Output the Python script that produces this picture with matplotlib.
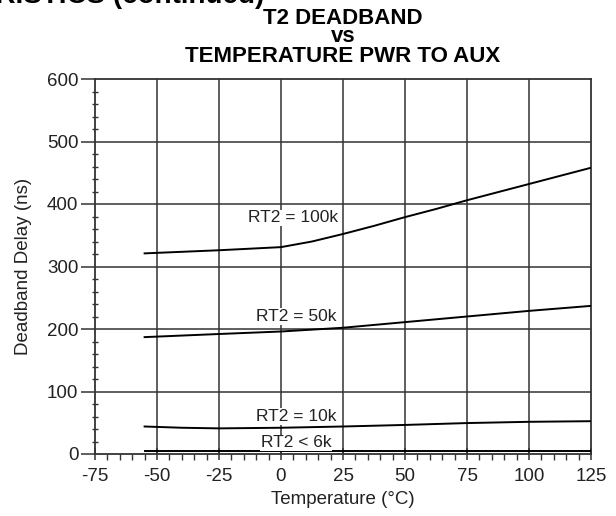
import matplotlib
matplotlib.use('Agg')
import matplotlib.pyplot as plt
from matplotlib.ticker import MultipleLocator

plt.rcParams['font.family'] = ['Liberation Sans', 'DejaVu Sans']
plt.rcParams['axes.unicode_minus'] = False

# curves
temp_100k = [-55, -25, 0, 12.5, 25, 37.5, 50, 62.5, 75, 100, 125]
delay_100k = [321, 326, 331, 340, 352, 365, 379, 392, 406, 432, 458]

temp_50k = [-55, -25, 0, 25, 50, 75, 100, 125]
delay_50k = [187, 192, 196, 202, 211, 220, 229, 237]

temp_10k = [-55, -40, -25, 0, 25, 50, 75, 100, 125]
delay_10k = [44, 42, 41, 42, 44, 46.5, 49.5, 51.5, 52.5]

temp_6k = [-55, 125]
delay_6k = [5, 5]

labels = ['RT2 = 100k', 'RT2 = 50k', 'RT2 = 10k', 'RT2 < 6k']
label_x = [5, 6, 6, 6]
label_y = [378, 220, 60, 18]

fig = plt.figure(figsize=(6.16, 5.16), dpi=100)
ax = fig.add_axes([95 / 616, 1 - 454 / 516, 496 / 616, 375 / 516])

grid_col = '#333333'
for x in range(-50, 125, 25):
    ax.axvline(x, color=grid_col, lw=1.1, zorder=1)
for y in range(100, 600, 100):
    ax.axhline(y, color=grid_col, lw=1.1, zorder=1)

for t, d in [(temp_100k, delay_100k), (temp_50k, delay_50k),
             (temp_10k, delay_10k), (temp_6k, delay_6k)]:
    ax.plot(t, d, color='black', lw=1.4, zorder=3)

for lab, x, y in zip(labels, label_x, label_y):
    ax.text(x, y, lab, ha='center', va='center', fontsize=12.5, color='#222222',
            bbox=dict(facecolor='white', edgecolor='none', pad=0.5), zorder=4)

ax.set_xlim(-75, 125)
ax.set_ylim(0, 600)
ax.xaxis.set_major_locator(MultipleLocator(25))
ax.xaxis.set_minor_locator(MultipleLocator(5))
ax.yaxis.set_major_locator(MultipleLocator(100))
ax.yaxis.set_minor_locator(MultipleLocator(20))
ax.tick_params(axis='x', which='major', direction='inout', length=8, width=1.1,
               labelsize=13.5, labelcolor='#222222', color='#333333', pad=6)
ax.tick_params(axis='x', which='minor', direction='out', length=4, width=1,
               color='#333333')
ax.tick_params(axis='y', which='major', direction='out', length=10, width=1.1,
               labelsize=13.5, labelcolor='#222222', color='#333333', pad=2)
ax.tick_params(axis='y', which='minor', direction='inout', length=5, width=1,
               color='#333333')
ax.tick_params(top=False, right=False, which='both')

for s in ax.spines.values():
    s.set_color('#333333')
    s.set_linewidth(1.3)

ax.set_xlabel('Temperature (°C)', fontsize=13.5, color='#222222')
ax.xaxis.set_label_coords(0.5, -0.1)
ax.set_ylabel('Deadband Delay (ns)', fontsize=13.5, color='#222222')
ax.yaxis.set_label_coords(-0.128, 0.5)

cx = (95 + 591) / 2 / 616
fig.text(cx, 1 - 18 / 516, 'T2 DEADBAND', ha='center', va='center',
         fontsize=16, fontweight='bold')
fig.text(cx, 1 - 37 / 516, 'vs', ha='center', va='center',
         fontsize=16, fontweight='bold')
fig.text(cx, 1 - 56 / 516, 'TEMPERATURE PWR TO AUX', ha='center', va='center',
         fontsize=16, fontweight='bold')

# header text from the datasheet page, cut off at the top edge
fig.text(264 / 616, 1 - 3 / 516, 'TYPICAL CHARACTERISTICS (continued)',
         ha='right', va='baseline', fontsize=20, fontweight='bold')

fig.savefig('out.png', dpi=100)
